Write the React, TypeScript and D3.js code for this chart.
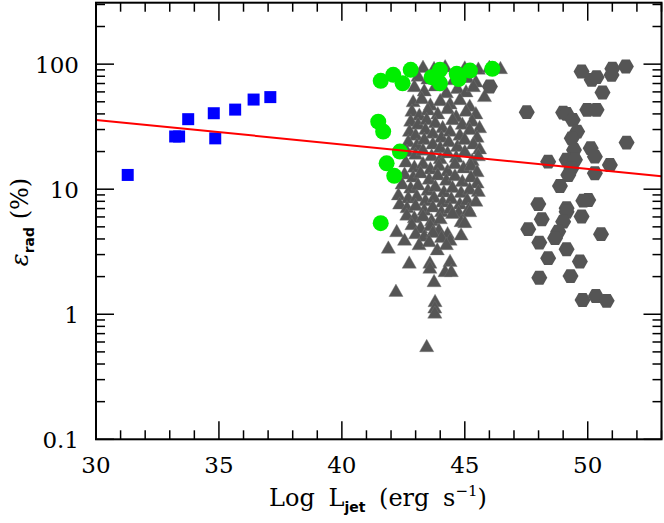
import React from 'react';
import * as d3 from 'd3';

// blue squares (low-luminosity sources)
const squarePts: [number, number][] = [
  [31.29, 13.0], [33.22, 26.4], [33.38, 26.4], [33.75, 36.3], [34.85, 25.5],
  [34.79, 40.5], [35.66, 43.3], [36.41, 52.1], [37.09, 54.5],
];

// green circles
const circlePts: [number, number][] = [
  [41.58, 73.5], [42.09, 82.1], [42.47, 70.3], [42.8, 90], [43.65, 78.7],
  [43.99, 90], [43.99, 70.3], [44.67, 83.6], [45.21, 88.9], [46.12, 91.7],
  [44.75, 76], [41.48, 34.7], [41.68, 28.9], [42.36, 20], [41.82, 16.1],
  [42.13, 12.8], [41.58, 5.35],
];

// grey triangles
const trianglePts: [number, number][] = [
  [43.3, 94], [43.75, 92], [44.2, 95], [45.0, 93], [45.55, 91], [46.0, 94], [46.45, 92],
  [43.1, 80], [43.5, 76], [44.0, 79], [44.55, 75], [45.1, 78], [45.45, 72],
  [42.95, 66], [43.35, 61], [43.8, 67], [44.25, 59], [44.7, 64], [45.05, 60], [45.35, 66], [45.8, 55],
  [42.9, 50], [43.25, 53], [43.6, 47], [44.0, 51], [44.4, 48], [44.8, 52], [45.2, 46],
  [42.85, 42], [43.15, 39], [43.5, 43], [43.9, 40], [44.3, 44], [44.65, 38], [45.05, 42], [45.45, 40],
  [42.8, 35], [43.1, 33], [43.45, 36], [43.8, 34], [44.1, 31], [44.5, 36], [44.9, 33], [45.3, 35], [45.6, 31],
  [42.75, 29], [43.0, 27], [43.4, 30], [43.7, 28], [44.05, 26], [44.4, 29], [44.8, 27], [45.2, 30], [45.5, 26],
  [42.7, 24], [43.05, 22.5], [43.35, 25], [43.7, 23], [44.0, 21.5], [44.35, 24], [44.7, 22], [45.0, 25], [45.35, 23], [45.6, 21],
  [42.65, 20], [43.0, 19], [43.3, 20.5], [43.65, 18.5], [44.0, 17.5], [44.3, 19.5], [44.65, 18], [45.0, 20], [45.3, 17], [45.55, 18.5],
  [42.6, 16.5], [42.95, 15], [43.3, 16], [43.6, 14.5], [43.95, 15.5], [44.3, 14], [44.6, 16], [44.95, 14.8], [45.25, 15.5], [45.5, 13.8],
  [42.55, 13.2], [42.9, 12.5], [43.2, 13.5], [43.55, 12], [43.9, 13], [44.25, 11.8], [44.6, 12.8], [44.9, 11.5], [45.25, 12.5], [45.5, 11.2],
  [42.45, 11], [42.8, 10.2], [43.1, 10.8], [43.5, 9.8], [43.8, 10.5], [44.15, 9.5], [44.5, 10.3], [44.85, 9.4], [45.2, 10], [45.55, 9.6],
  [42.3, 9], [42.7, 8.5], [43.05, 8.8], [43.4, 8.1], [43.75, 8.6], [44.1, 7.9], [44.45, 8.4], [44.8, 7.6], [45.1, 8.2], [45.45, 8],
  [42.35, 7.6], [42.65, 7.1], [43.0, 7.4], [43.35, 6.8], [43.7, 7.2], [44.05, 6.6], [44.4, 7.0], [44.75, 6.5], [45.15, 6.9],
  [42.64, 6.2], [42.95, 5.9], [43.3, 6.1], [43.65, 5.6], [44.0, 5.8], [44.5, 6.4], [44.85, 5.5], [45.2, 6.6],
  [42.85, 5.2], [43.2, 4.9], [43.6, 5.1], [43.95, 4.7], [44.3, 4.4], [44.85, 4.3], [45.0, 5.4],
  [42.23, 4.57], [43.0, 4.4], [43.35, 4.2], [43.7, 4.5], [44.05, 4.1], [44.4, 3.9],
  [42.55, 3.9], [43.14, 3.59], [43.55, 3.8], [43.88, 3.27], [44.25, 3.6],
  [41.89, 3.37], [42.74, 2.56], [43.58, 2.56], [43.58, 2.33], [44.4, 2.64], [44.2, 2.19], [44.45, 2.19],
  [43.75, 1.82], [42.2, 1.52], [43.79, 1.26], [43.78, 1.12], [43.78, 1.02], [43.45, 0.55],
];

// grey hexagons
const hexPts: [number, number][] = [
  [46.02, 66.2], [47.52, 41.3], [49.75, 87.3], [50.16, 74.9], [50.36, 78.7], [51.0, 92],
  [50.97, 82], [51.55, 95.7], [50.6, 59.3], [49.0, 41], [49.14, 40], [49.39, 35.8], [49.98, 43.1],
  [50.36, 43.1], [49.57, 28.9], [49.35, 25.5], [51.58, 23.6], [49.44, 20.6], [50.12, 21.3],
  [50.29, 18.2], [48.39, 16.6], [49.14, 17.2], [49.48, 17.2], [49.34, 14.7], [50.9, 15.6],
  [50.29, 13.4], [49.21, 13], [48.87, 10.6], [47.99, 7.6], [49.14, 7.05], [50.02, 8.2],
  [49.82, 8.1], [49.14, 6.6], [48.13, 5.75], [47.58, 4.79], [49.0, 5.5], [49.75, 6.05],
  [48.8, 4.58], [48.03, 3.74], [48.67, 4.06], [49.14, 3.31], [48.39, 2.81], [49.68, 2.64],
  [50.54, 4.37], [48.03, 1.96], [49.3, 2.02], [49.79, 1.3], [50.33, 1.4], [50.77, 1.28],
];

// fitted line end points
const fitLine: [number, number][] = [[30, 35.8], [53, 12.7]];

const xMajor = [30, 35, 40, 45, 50];
const yMajor = [0.1, 1, 10, 100];
const yLabels = ['0.1', '1', '10', '100'];

const W = 664;
const H = 523;
const FONT = '"DejaVu Serif", serif';

const App: React.FC = () => {
  const x = d3.scaleLinear().domain([30, 53]).range([96, 661.5]);
  const y = d3.scaleLog().domain([0.1, 310]).range([439.3, 2.7]);
  const [x0, x1] = x.range();
  const [yb, yt] = y.range();

  const xMinor = d3.range(30, 54, 1).filter(v => !xMajor.includes(v));
  const yMinor: number[] = [];
  [0.1, 1, 10, 100].forEach(d => {
    for (let k = 2; k <= 9; k++) if (d * k <= 310) yMinor.push(d * k);
  });

  const R = 8;
  const hexPath = d3.range(6).map(i => {
    const a = (Math.PI / 3) * i;
    return `${i ? 'L' : 'M'}${(R * Math.cos(a)).toFixed(2)},${(R * Math.sin(a)).toFixed(2)}`;
  }).join('') + 'Z';
  const triPath = 'M0,-7.4L7.1,5L-7.1,5Z';
  const line = d3.line<[number, number]>().x(d => x(d[0])).y(d => y(d[1]));

  return (
    <svg width={W} height={H} style={{ position: 'absolute', left: 0, top: 0, background: '#fff' }}>
      <g>
        {trianglePts.map((d, i) => (
          <path key={'t' + i} d={triPath} transform={`translate(${x(d[0])},${y(d[1])})`} fill="#555555" stroke="#777" strokeWidth={0.4} />
        ))}
        {hexPts.map((d, i) => (
          <path key={'h' + i} d={hexPath} transform={`translate(${x(d[0])},${y(d[1])})`} fill="#555555" />
        ))}
        {squarePts.map((d, i) => (
          <rect key={'s' + i} x={x(d[0]) - 6} y={y(d[1]) - 6} width={12} height={12} fill="#0000ff" />
        ))}
        {circlePts.map((d, i) => (
          <circle key={'c' + i} cx={x(d[0])} cy={y(d[1])} r={8} fill="#00ee00" />
        ))}
        <path d={line(fitLine) || ''} stroke="#ff0000" strokeWidth={2} fill="none" />
      </g>

      {/* frame */}
      <rect x={x0} y={yt} width={x1 - x0} height={yb - yt} fill="none" stroke="#000" strokeWidth={2} />
      <g stroke="#000" strokeWidth={1.5}>
        {xMajor.map(v => (
          <g key={'xm' + v}>
            <line x1={x(v)} x2={x(v)} y1={yb} y2={yb - 18} />
            <line x1={x(v)} x2={x(v)} y1={yt} y2={yt + 18} />
          </g>
        ))}
        {xMinor.map(v => (
          <g key={'xn' + v}>
            <line x1={x(v)} x2={x(v)} y1={yb} y2={yb - 9} />
            <line x1={x(v)} x2={x(v)} y1={yt} y2={yt + 9} />
          </g>
        ))}
        {yMajor.map(v => (
          <g key={'ym' + v}>
            <line x1={x0} x2={x0 + 18} y1={y(v)} y2={y(v)} />
            <line x1={x1} x2={x1 - 18} y1={y(v)} y2={y(v)} />
          </g>
        ))}
        {yMinor.map(v => (
          <g key={'yn' + v}>
            <line x1={x0} x2={x0 + 9} y1={y(v)} y2={y(v)} />
            <line x1={x1} x2={x1 - 9} y1={y(v)} y2={y(v)} />
          </g>
        ))}
      </g>

      {/* tick labels */}
      <g fontFamily={FONT} fontSize={23} fill="#000">
        {xMajor.map(v => (
          <text key={'xl' + v} x={x(v)} y={473} textAnchor="middle">{v}</text>
        ))}
        {yMajor.map((v, i) => (
          <text key={'yl' + v} x={79} y={y(v) + 8.5} textAnchor="end">{yLabels[i]}</text>
        ))}
      </g>

      {/* axis titles */}
      <text x={378} y={506} textAnchor="middle" fontFamily={FONT} fontSize={24} wordSpacing={6}>
        Log L<tspan dy={6} fontSize={14} fontFamily="DejaVu Sans" fontWeight="bold">jet</tspan>
        <tspan dy={-6}> (erg s</tspan>
        <tspan dy={-10} fontSize={15}>−1</tspan>
        <tspan dy={10}>)</tspan>
      </text>
      <text transform="translate(28,222) rotate(-90)" textAnchor="middle" fontFamily={FONT} fontSize={24}>
        <tspan fontStyle="italic">ε</tspan>
        <tspan dy={6} fontSize={14} fontFamily="DejaVu Sans" fontWeight="bold">rad</tspan>
        <tspan dy={-6}>  (%)</tspan>
      </text>
    </svg>
  );
};

export default App;
